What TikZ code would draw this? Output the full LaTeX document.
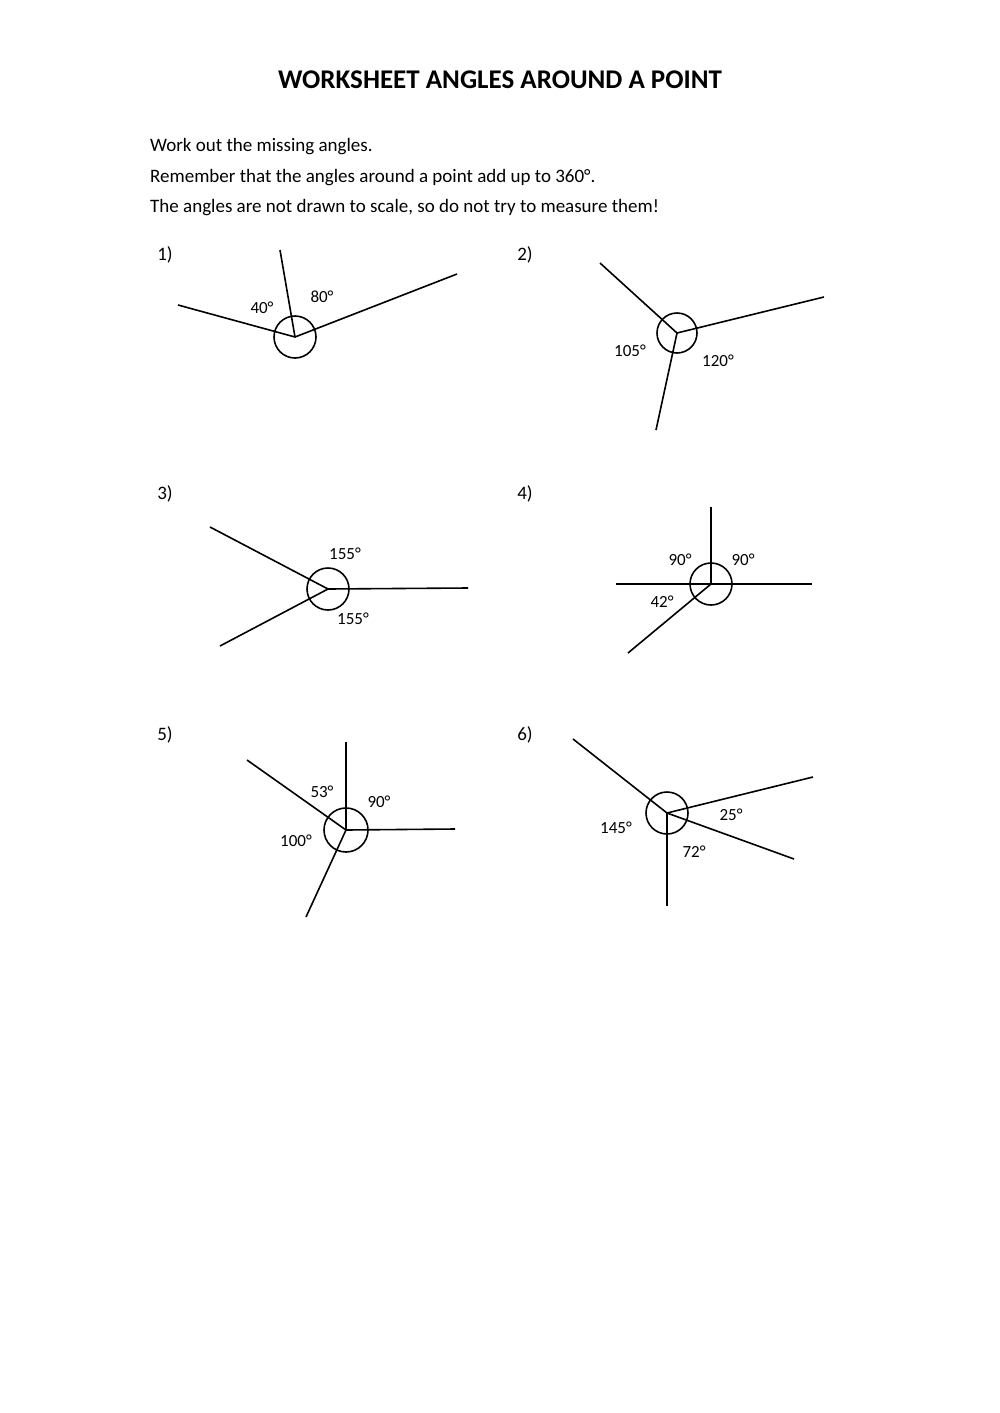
\documentclass[tikz,border=0pt]{standalone}
\usepackage{fontspec}
\setmainfont{Carlito}
\begin{document}
\begin{tikzpicture}[x=1pt,y=-1pt,
  ray/.style={line width=1.6pt},
  ring/.style={line width=1.6pt},
  lab/.style={font=\fontsize{17}{17}\selectfont, inner sep=0pt},
  num/.style={font=\fontsize{19}{19}\selectfont, inner sep=0pt}]
\useasboundingbox[fill=white] (0,0) rectangle (1000,1413);
\node[font=\bfseries\fontsize{27}{27}\selectfont] (title) at (500,80) {WORKSHEET ANGLES AROUND A POINT};
\node[num,anchor=west] (t1) at (150,147) {Work out the missing angles.};
\node[num,anchor=west] (t2) at (150,178) {Remember that the angles around a point add up to 360°.};
\node[num,anchor=west] (t3) at (150,208) {The angles are not drawn to scale, so do not try to measure them!};
\foreach \n/\x/\y in {1/165/255,2/525/255,3/165/494,4/525/494,5/165/735,6/525/735}
  \node[num] (n\n) at (\x,\y) {\n)};
% 1
\coordinate (c1) at (295,337);
\draw[ring] (c1) circle (21);
\coordinate (a1) at (178,305); \coordinate (b1) at (280,250); \coordinate (d1) at (457,274);
\draw[ray] (a1) -- (c1) -- (d1); \draw[ray] (c1) -- (b1);
\node[lab] (l11) at (262,308) {40°}; \node[lab] (l12) at (322,297) {80°};
% 2
\coordinate (c2) at (677,333);
\draw[ring] (c2) circle (20);
\coordinate (a2) at (600,263); \coordinate (b2) at (824,297); \coordinate (d2) at (656,430);
\draw[ray] (c2) -- (a2); \draw[ray] (c2) -- (b2); \draw[ray] (c2) -- (d2);
\node[lab] (l21) at (630,351) {105°}; \node[lab] (l22) at (718,361) {120°};
% 3
\coordinate (c3) at (328,589);
\draw[ring] (c3) circle (21);
\coordinate (a3) at (210,527); \coordinate (b3) at (468,588); \coordinate (d3) at (220,646);
\draw[ray] (c3) -- (a3); \draw[ray] (c3) -- (b3); \draw[ray] (c3) -- (d3);
\node[lab] (l31) at (345,554) {155°}; \node[lab] (l32) at (353,619) {155°};
% 4
\coordinate (c4) at (711,584);
\draw[ring] (c4) circle (21);
\coordinate (a4) at (711,507); \coordinate (b4) at (616,584); \coordinate (d4) at (812,584); \coordinate (e4) at (628,653);
\draw[ray] (c4) -- (a4); \draw[ray] (b4) -- (d4); \draw[ray] (c4) -- (e4);
\node[lab] (l41) at (680,560) {90°}; \node[lab] (l42) at (743,560) {90°}; \node[lab] (l43) at (662,602) {42°};
% 5
\coordinate (c5) at (346,830);
\draw[ring] (c5) circle (22);
\coordinate (a5) at (346,742); \coordinate (b5) at (247,760); \coordinate (d5) at (455,829); \coordinate (e5) at (306,917);
\draw[ray] (c5) -- (a5); \draw[ray] (c5) -- (b5); \draw[ray] (c5) -- (d5); \draw[ray] (c5) -- (e5);
\node[lab] (l51) at (322,792) {53°}; \node[lab] (l52) at (379,802) {90°}; \node[lab] (l53) at (296,841) {100°};
% 6
\coordinate (c6) at (667,813);
\draw[ring] (c6) circle (21);
\coordinate (a6) at (573,739); \coordinate (b6) at (813,777); \coordinate (d6) at (794,859); \coordinate (e6) at (667,906);
\draw[ray] (c6) -- (a6); \draw[ray] (c6) -- (b6); \draw[ray] (c6) -- (d6); \draw[ray] (c6) -- (e6);
\node[lab] (l61) at (616,828) {145°}; \node[lab] (l62) at (731,815) {25°}; \node[lab] (l63) at (694,852) {72°};
\end{tikzpicture}
\end{document}
